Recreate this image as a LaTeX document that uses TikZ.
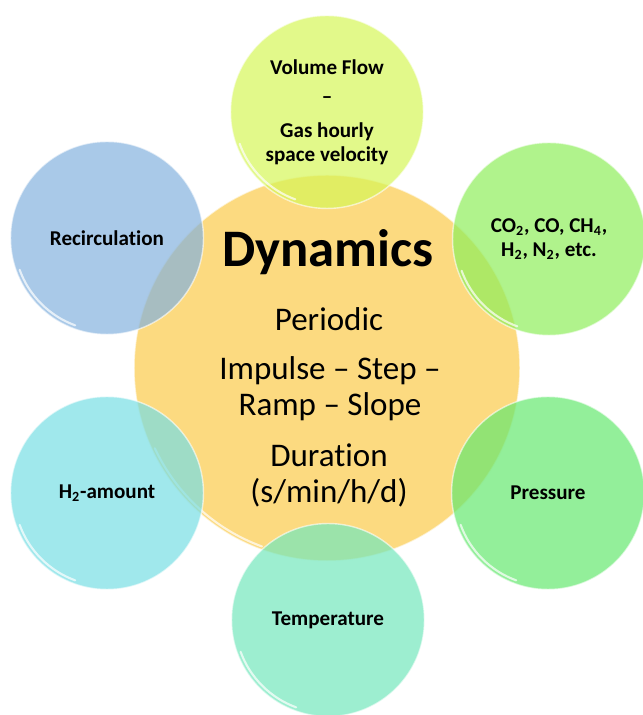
\documentclass[tikz,border=0pt]{standalone}
\usepackage{fontspec}
\setmainfont{Carlito}[Ligatures=NoCommon]
\usepackage{xcolor}
\usepackage{tikz}
\definecolor{dynorange}{RGB}{252,218,128}
\definecolor{volgreen}{RGB}{214,246,88}
\definecolor{gasgreen}{RGB}{142,238,91}
\definecolor{presgreen}{RGB}{101,232,111}
\definecolor{tempmint}{RGB}{115,231,188}
\definecolor{hcyan}{RGB}{119,222,228}
\definecolor{recblue}{RGB}{132,178,222}

\begin{document}
\begin{tikzpicture}[x=.02cm, y=.02cm,
	bubble/.style = {circle, minimum size=3.86cm, inner sep=0pt, fill opacity=.7, text opacity=1, draw=white, draw opacity=.6, line width=.8pt, align=center, font=\bfseries\fontsize{12}{13.5}\selectfont},
	gloss/.style = {white, opacity=.7, line width=1.2pt, line cap=round},
	big/.style = {align=center, font=\fontsize{18.8}{20.5}\selectfont}]
	\useasboundingbox (0,0) rectangle (642,715);
	\node[circle, minimum size=7.72cm, inner sep=0pt, fill=dynorange, draw=white, draw opacity=.6, line width=.8pt] (dyn) at (327,347) {};
	\draw[gloss] (dyn.center) ++(205:3.8cm) arc[start angle=205, end angle=250, radius=3.8cm];
	\node (title) at (328,463) {\bfseries\fontsize{30}{32}\selectfont Dynamics};
	\node[big] (periodic) at (329,396) {Periodic};
	\node[big] (shape) at (330,326) {Impulse – Step –\\Ramp – Slope};
	\node[big] (duration) at (329,240) {Duration\\(s/min/h/d)};
	\node[bubble, fill=volgreen] (vol) at (327,603) {Volume Flow\\[3pt]–\\[6pt]Gas hourly\\space velocity};
	\node[bubble, fill=gasgreen] (gas) at (549,476) {CO\textsubscript{2}, CO, CH\textsubscript{4},\\H\textsubscript{2}, N\textsubscript{2}, etc.};
	\node[bubble, fill=presgreen] (pres) at (548,222) {Pressure};
	\node[bubble, fill=tempmint] (temp) at (328,95) {Temperature};
	\node[bubble, fill=hcyan] (htwo) at (107,222) {H\textsubscript{2}-amount};
	\node[bubble, fill=recblue] (rec) at (107,477) {Recirculation};
	\draw[gloss] (vol.center) ++(200:1.86cm) arc[start angle=200, end angle=250, radius=1.86cm];
	\draw[gloss] (gas.center) ++(200:1.86cm) arc[start angle=200, end angle=250, radius=1.86cm];
	\draw[gloss] (pres.center) ++(200:1.86cm) arc[start angle=200, end angle=250, radius=1.86cm];
	\draw[gloss] (temp.center) ++(200:1.86cm) arc[start angle=200, end angle=250, radius=1.86cm];
	\draw[gloss] (htwo.center) ++(200:1.86cm) arc[start angle=200, end angle=250, radius=1.86cm];
	\draw[gloss] (rec.center) ++(200:1.86cm) arc[start angle=200, end angle=250, radius=1.86cm];
\end{tikzpicture}
\end{document}
